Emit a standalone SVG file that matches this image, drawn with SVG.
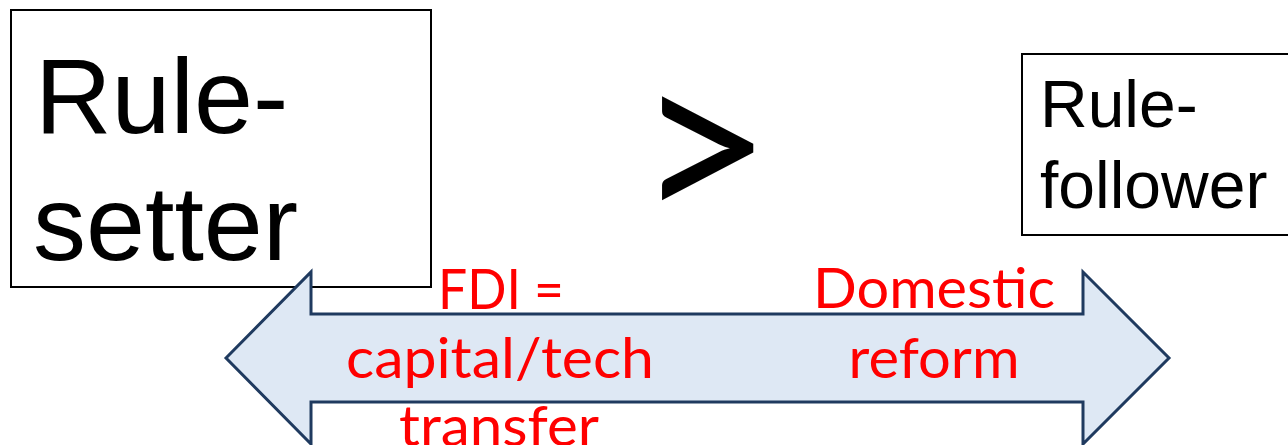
<svg xmlns="http://www.w3.org/2000/svg" width="1288" height="445" viewBox="0 0 1288 445">
<style>
.box{fill:#fff;stroke:#000;stroke-width:2}
.big{font-family:"Liberation Sans",Arial,sans-serif;fill:#000}
.red{font-family:Lato,"Open Sans",sans-serif;fill:#ff0000;font-size:57px;text-anchor:middle}
.arrow{fill:#dee8f4;stroke:#1f3a5f;stroke-width:3;stroke-linejoin:miter}
</style>
<rect width="1288" height="445" fill="#fff"/>
<g id="rule-setter">
<rect class="box" x="11" y="10" width="420" height="277"/>
<text class="big" font-size="106" x="35" y="133">Rule-</text>
<text class="big" font-size="106" x="33" y="260">setter</text>
</g>
<g id="rule-follower">
<rect class="box" x="1022" y="54" width="280" height="181"/>
<text class="big" font-size="66" x="1040" y="127">Rule-</text>
<text class="big" font-size="66" x="1040" y="208">follower</text>
</g>
<g id="greater">
<text font-family="Lato,sans-serif" font-size="236" x="704" y="228" text-anchor="middle" fill="#000">&gt;</text>
</g>
<g id="connectors">
<path class="arrow" d="M226,358 L311,272 L311,314 L1083,314 L1083,272 L1169,358 L1083,444 L1083,402 L311,402 L311,444 Z"/>
</g>
<g id="labels">
<text class="red" x="501" y="309" textLength="126" lengthAdjust="spacingAndGlyphs">FDI =</text>
<text class="red" x="500" y="378" textLength="308" lengthAdjust="spacingAndGlyphs">capital/tech</text>
<text class="red" x="499" y="446" textLength="200" lengthAdjust="spacingAndGlyphs">transfer</text>
<text class="red" x="934" y="308" textLength="242" lengthAdjust="spacingAndGlyphs">Domestic</text>
<text class="red" x="934" y="378" textLength="171" lengthAdjust="spacingAndGlyphs">reform</text>
</g>
</svg>
